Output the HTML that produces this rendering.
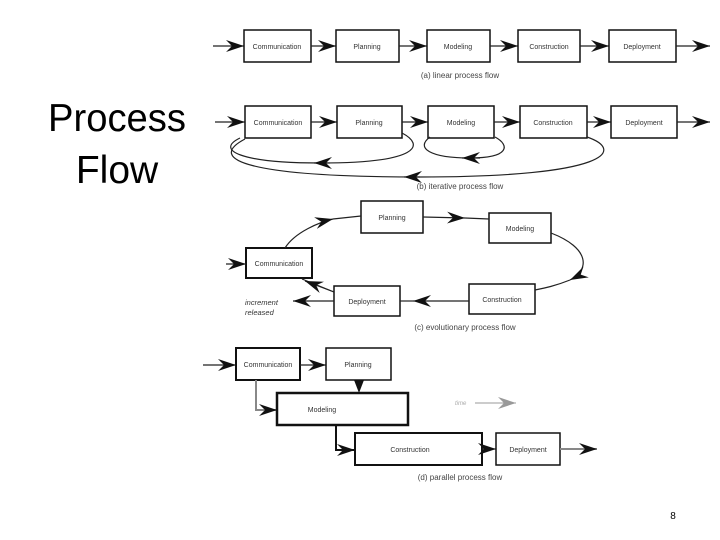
<!DOCTYPE html>
<html><head><meta charset="utf-8"><style>
html,body{margin:0;padding:0;background:#fff;}
svg{display:block;}
.b{fill:#fff;stroke:#111;stroke-width:1.5;}
.t{font-family:"Liberation Sans",sans-serif;font-size:7px;fill:#333;text-anchor:middle;}
.l{font-family:"Liberation Sans",sans-serif;font-size:8px;fill:#444;text-anchor:middle;}
.ln{fill:none;stroke:#222;stroke-width:1.2;}
</style></head><body>
<svg width="720" height="540" viewBox="0 0 720 540" xmlns="http://www.w3.org/2000/svg">
<defs>
<marker id="a" markerUnits="userSpaceOnUse" markerWidth="20" markerHeight="12" refX="18" refY="6" orient="auto">
<path d="M0,0 L18,6 L0,12 L6,6 z" fill="#111"/></marker>
<marker id="g" markerUnits="userSpaceOnUse" markerWidth="20" markerHeight="12" refX="18" refY="6" orient="auto">
<path d="M0,0 L18,6 L0,12 L6,6 z" fill="#999"/></marker>
</defs>
<text x="117" y="131" font-family="Liberation Sans,sans-serif" font-size="39" text-anchor="middle" textLength="138" lengthAdjust="spacingAndGlyphs">Process</text>
<text x="117" y="183" font-family="Liberation Sans,sans-serif" font-size="39" text-anchor="middle">Flow</text>
<text x="673" y="519" font-family="Liberation Sans,sans-serif" font-size="10" text-anchor="middle">8</text>

<!-- (a) -->
<g>
<line class="ln" x1="213" y1="46" x2="244" y2="46" marker-end="url(#a)"/>
<rect class="b" x="244" y="30" width="67" height="32"/><text class="t" x="277" y="49">Communication</text>
<line class="ln" x1="311" y1="46" x2="336" y2="46" marker-end="url(#a)"/>
<rect class="b" x="336" y="30" width="63" height="32"/><text class="t" x="367" y="49">Planning</text>
<line class="ln" x1="399" y1="46" x2="427" y2="46" marker-end="url(#a)"/>
<rect class="b" x="427" y="30" width="63" height="32"/><text class="t" x="458" y="49">Modeling</text>
<line class="ln" x1="490" y1="46" x2="518" y2="46" marker-end="url(#a)"/>
<rect class="b" x="518" y="30" width="62" height="32"/><text class="t" x="549" y="49">Construction</text>
<line class="ln" x1="580" y1="46" x2="609" y2="46" marker-end="url(#a)"/>
<rect class="b" x="609" y="30" width="67" height="32"/><text class="t" x="642" y="49">Deployment</text>
<line class="ln" x1="676" y1="46" x2="710" y2="46" marker-end="url(#a)"/>
<text class="l" x="460" y="78">(a) linear process flow</text>
</g>

<!-- (b) -->
<g>
<line class="ln" x1="215" y1="122" x2="245" y2="122" marker-end="url(#a)"/>
<rect class="b" x="245" y="106" width="66" height="32"/><text class="t" x="278" y="125">Communication</text>
<line class="ln" x1="311" y1="122" x2="337" y2="122" marker-end="url(#a)"/>
<rect class="b" x="337" y="106" width="65" height="32"/><text class="t" x="369" y="125">Planning</text>
<line class="ln" x1="402" y1="122" x2="428" y2="122" marker-end="url(#a)"/>
<rect class="b" x="428" y="106" width="66" height="32"/><text class="t" x="461" y="125">Modeling</text>
<line class="ln" x1="494" y1="122" x2="520" y2="122" marker-end="url(#a)"/>
<rect class="b" x="520" y="106" width="67" height="32"/><text class="t" x="553" y="125">Construction</text>
<line class="ln" x1="587" y1="122" x2="611" y2="122" marker-end="url(#a)"/>
<rect class="b" x="611" y="106" width="66" height="32"/><text class="t" x="644" y="125">Deployment</text>
<line class="ln" x1="677" y1="122" x2="710" y2="122" marker-end="url(#a)"/>
<path class="ln" d="M402,133 C425,145 420,163 320,163 C240,163 215,150 240,138"/>
<path d="M330,163 L314,163" class="ln" marker-end="url(#a)"/>
<path class="ln" d="M430,137 C415,148 430,158 470,158 C510,158 510,145 495,137"/>
<path d="M480,158 L462,158" class="ln" marker-end="url(#a)"/>
<path class="ln" d="M587,137 C625,150 610,177 420,177 C250,177 205,160 245,139"/>
<path d="M420,177 L404,177" class="ln" marker-end="url(#a)"/>
<text class="l" x="460" y="189">(b) iterative process flow</text>
</g>

<!-- (c) -->
<g>
<rect class="b" x="361" y="201" width="62" height="32"/><text class="t" x="392" y="220">Planning</text>
<rect class="b" x="489" y="213" width="62" height="30"/><text class="t" x="520" y="231">Modeling</text>
<rect class="b" x="246" y="248" width="66" height="30" style="stroke-width:2"/><text class="t" x="279" y="266">Communication</text>
<rect class="b" x="334" y="286" width="66" height="30"/><text class="t" x="367" y="304">Deployment</text>
<rect class="b" x="469" y="284" width="66" height="30"/><text class="t" x="502" y="302">Construction</text>
<line class="ln" x1="226" y1="264" x2="246" y2="264" marker-end="url(#a)"/>
<path class="ln" d="M285,248 C295,232 320,222 333,219" marker-end="url(#a)"/>
<line class="ln" x1="333" y1="219" x2="361" y2="216"/>
<path class="ln" d="M423,217 L465,218" marker-end="url(#a)"/>
<line class="ln" x1="465" y1="218" x2="489" y2="219"/>
<path class="ln" d="M551,233 C590,248 590,270 570,280" marker-end="url(#a)"/>
<path class="ln" d="M570,280 C555,286 545,288 535,290"/>
<line class="ln" x1="469" y1="301" x2="413" y2="301" marker-end="url(#a)"/>
<line class="ln" x1="413" y1="301" x2="400" y2="301"/>
<path class="ln" d="M334,292 L302,279"/>
<path class="ln" d="M334,292 L305,281" marker-end="url(#a)"/>
<line class="ln" x1="334" y1="301" x2="293" y2="301" marker-end="url(#a)"/>
<text x="245" y="305" font-family="Liberation Sans,sans-serif" font-size="7.5" font-style="italic" fill="#333">increment</text>
<text x="245" y="315" font-family="Liberation Sans,sans-serif" font-size="7.5" font-style="italic" fill="#333">released</text>
<text class="l" x="465" y="330">(c) evolutionary process flow</text>
</g>

<!-- (d) -->
<g>
<line class="ln" x1="203" y1="365" x2="236" y2="365" marker-end="url(#a)"/>
<rect class="b" x="236" y="348" width="64" height="32" style="stroke-width:2"/><text class="t" x="268" y="367">Communication</text>
<line class="ln" x1="300" y1="365" x2="326" y2="365" marker-end="url(#a)"/>
<rect class="b" x="326" y="348" width="65" height="32"/><text class="t" x="358" y="367">Planning</text>
<path d="M354,380 L364,380 L359,393 z" fill="#111"/>
<path d="M256,380 L256,410 L277,410" fill="none" stroke="#888" stroke-width="2" marker-end="url(#a)"/>
<rect class="b" x="277" y="393" width="131" height="32" style="stroke-width:2.5"/><text class="t" x="322" y="412">Modeling</text>
<path d="M336,425 L336,450 L355,450" fill="none" stroke="#111" stroke-width="2" marker-end="url(#a)"/>
<rect class="b" x="355" y="433" width="127" height="32" style="stroke-width:2"/><text class="t" x="410" y="452">Construction</text>
<line class="ln" x1="482" y1="449" x2="496" y2="449" marker-end="url(#a)"/>
<rect class="b" x="496" y="433" width="64" height="32"/><text class="t" x="528" y="452">Deployment</text>
<line x1="560" y1="449" x2="597" y2="449" stroke="#888" stroke-width="2" marker-end="url(#a)"/>
<text x="455" y="405" font-family="Liberation Sans,sans-serif" font-size="6" font-style="italic" fill="#aaa">time</text>
<line x1="475" y1="403" x2="516" y2="403" stroke="#999" stroke-width="1" marker-end="url(#g)"/>
<text class="l" x="460" y="480">(d) parallel process flow</text>
</g>
</svg>
</body></html>
